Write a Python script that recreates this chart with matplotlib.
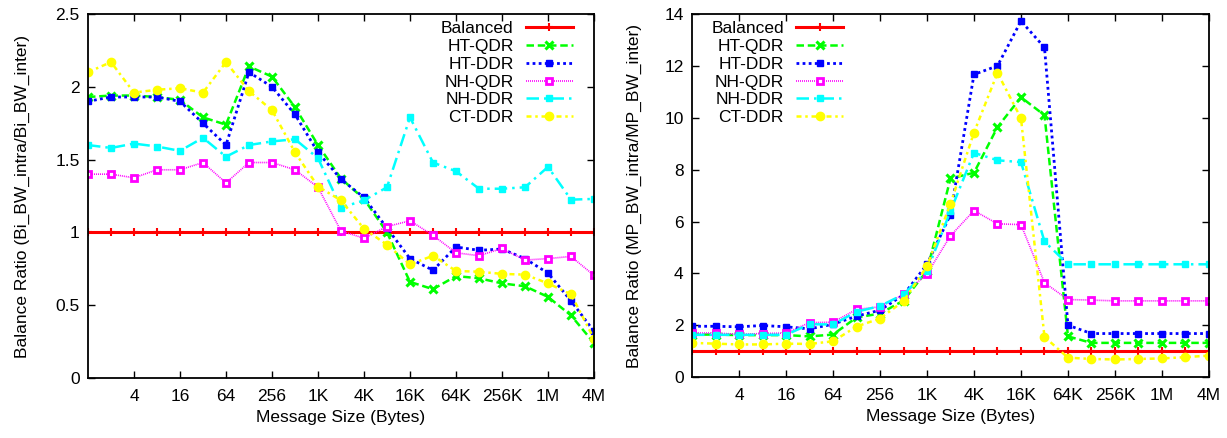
import numpy as np
import matplotlib.pyplot as plt

plt.rcParams['font.family'] = ['Liberation Sans', 'DejaVu Sans']

# ── Data ──────────────────────────────────────────────────
msg_sizes = [2 ** k for k in range(23)]          # 1 B .. 4 MB
tick_sizes = [2 ** k for k in range(2, 23, 2)]
tick_labels = ['4', '16', '64', '256', '1K', '4K', '16K', '64K', '256K', '1M', '4M']

series_names = ['Balanced', 'HT-QDR', 'HT-DDR', 'NH-QDR', 'NH-DDR', 'CT-DDR']

# Bi-directional bandwidth ratio (left panel)
bi_balanced = [1.0] * 23
bi_ht_qdr = [1.93, 1.94, 1.94, 1.93, 1.91, 1.79, 1.74, 2.14, 2.07, 1.86, 1.60, 1.37,
             1.23, 1.00, 0.66, 0.61, 0.70, 0.685, 0.65, 0.63, 0.557, 0.43, 0.24]
bi_ht_ddr = [1.90, 1.93, 1.93, 1.93, 1.90, 1.75, 1.60, 2.10, 2.00, 1.81, 1.55, 1.365,
             1.24, 1.03, 0.82, 0.74, 0.90, 0.877, 0.886, 0.82, 0.72, 0.53, 0.32]
bi_nh_qdr = [1.40, 1.40, 1.375, 1.43, 1.43, 1.48, 1.34, 1.48, 1.48, 1.43, 1.31, 1.01,
             0.96, 1.04, 1.08, 0.98, 0.86, 0.84, 0.89, 0.81, 0.82, 0.835, 0.705]
bi_nh_ddr = [1.60, 1.58, 1.61, 1.59, 1.56, 1.65, 1.52, 1.60, 1.625, 1.64, 1.51, 1.17,
             1.22, 1.31, 1.79, 1.48, 1.42, 1.30, 1.30, 1.31, 1.45, 1.225, 1.23]
bi_ct_ddr = [2.10, 2.17, 1.96, 1.98, 1.99, 1.96, 2.17, 1.97, 1.84, 1.55, 1.315, 1.22,
             1.025, 0.915, 0.78, 0.84, 0.735, 0.73, 0.715, 0.71, 0.65, 0.575, 0.27]

# Multi-pair bandwidth ratio (right panel)
mp_balanced = [1.0] * 23
mp_ht_qdr = [1.64, 1.64, 1.62, 1.62, 1.62, 1.57, 1.64, 2.30, 2.45, 2.95, 4.10, 7.66,
             7.88, 9.64, 10.79, 10.10, 1.57, 1.32, 1.32, 1.32, 1.32, 1.32, 1.32]
mp_ht_ddr = [1.96, 1.96, 1.94, 1.99, 1.94, 1.86, 2.04, 2.35, 2.58, 3.17, 4.35, 6.27,
             11.67, 12.00, 13.73, 12.71, 2.00, 1.68, 1.68, 1.68, 1.68, 1.68, 1.68]
mp_nh_qdr = [1.70, 1.70, 1.65, 1.68, 1.70, 2.10, 2.12, 2.61, 2.71, 3.19, 3.98, 5.45,
             6.42, 5.91, 5.88, 3.64, 2.99, 2.97, 2.94, 2.94, 2.94, 2.94, 2.94]
mp_nh_ddr = [1.63, 1.63, 1.63, 1.63, 1.63, 2.04, 2.03, 2.52, 2.74, 3.19, 4.09, 6.40,
             8.65, 8.36, 8.29, 5.23, 4.35, 4.35, 4.35, 4.35, 4.35, 4.35, 4.35]
mp_ct_ddr = [1.32, 1.29, 1.26, 1.26, 1.29, 1.28, 1.38, 1.95, 2.26, 2.93, 4.27, 6.69,
             9.43, 11.73, 9.98, 1.55, 0.75, 0.70, 0.68, 0.70, 0.72, 0.77, 0.83]

# ── Styles (gnuplot look) ─────────────────────────────────
styles = [
    dict(color='#ff0000', ls='-', lw=2.2, marker='+', ms=6, mew=1.5),
    dict(color='#00ff00', ls=(0, (3, 1.5)), lw=1.8, marker='x', ms=5.5, mew=2.2),
    dict(color='#0000ff', ls=(0, (1, 1.2)), lw=2.0, marker='s', ms=4.8, mew=1),
    dict(color='#ff00ff', ls=(0, (0.6, 0.6)), lw=1.2, marker='s', ms=4.5, mew=2,
         mfc='white'),
    dict(color='#00ffff', ls=(0, (5, 2, 1, 2)), lw=1.8, marker='s', ms=5, mew=1),
    dict(color='#ffff00', ls=(0, (2, 1.5, 1, 1.5)), lw=1.8, marker='o', ms=6, mew=1),
]


def draw_panel(ax, series, ylim, yticks, ytick_labels, ylabel, legend_anchor, ypad):
    for name, vals, st in zip(series_names, series, styles):
        ax.plot(msg_sizes, vals, label=name, **st)

    ax.set_xscale('log', base=2)
    ax.set_xlim(msg_sizes[0], msg_sizes[-1])
    ax.set_xticks(tick_sizes)
    ax.set_xticklabels(tick_labels)
    ax.minorticks_off()
    ax.set_ylim(*ylim)
    ax.set_yticks(yticks)
    ax.set_yticklabels(ytick_labels)

    ax.tick_params(direction='in', top=True, right=True, length=5, width=1,
                   labelsize=12.5, pad=6)
    ax.tick_params(axis='x', pad=8)
    for sp in ax.spines.values():
        sp.set_linewidth(1.3)

    ax.set_xlabel('Message Size (Bytes)', fontsize=12.5, labelpad=4)
    ax.set_ylabel(ylabel, fontsize=12.5, labelpad=ypad)

    leg = ax.legend(loc='upper right', bbox_to_anchor=legend_anchor, frameon=False,
                    markerfirst=False, fontsize=12.5, handlelength=2.7,
                    handletextpad=0.7, labelspacing=0.15, borderpad=0,
                    borderaxespad=0)
    # right-align the labels like gnuplot does
    for col in leg._legend_handle_box.get_children():
        col.align = 'right'


# ── Figure ────────────────────────────────────────────────
fig = plt.figure(figsize=(12.27, 4.38), dpi=100)
ax1 = fig.add_axes([0.0717, 0.137, 0.4124, 0.831])
ax2 = fig.add_axes([0.564, 0.139, 0.4213, 0.829])

draw_panel(ax1, [bi_balanced, bi_ht_qdr, bi_ht_ddr, bi_nh_qdr, bi_nh_ddr, bi_ct_ddr],
           (0, 2.5), [0, 0.5, 1, 1.5, 2, 2.5], ['0', '0.5', '1', '1.5', '2', '2.5'],
           'Balance Ratio (Bi_BW_intra/Bi_BW_inter)', (0.958, 0.98), 18)
draw_panel(ax2, [mp_balanced, mp_ht_qdr, mp_ht_ddr, mp_nh_qdr, mp_nh_ddr, mp_ct_ddr],
           (0, 14), list(range(0, 15, 2)), [str(v) for v in range(0, 15, 2)],
           'Balance Ratio (MP_BW_intra/MP_BW_inter)', (0.292, 0.98), 16)

fig.savefig('out.png', dpi=100)
